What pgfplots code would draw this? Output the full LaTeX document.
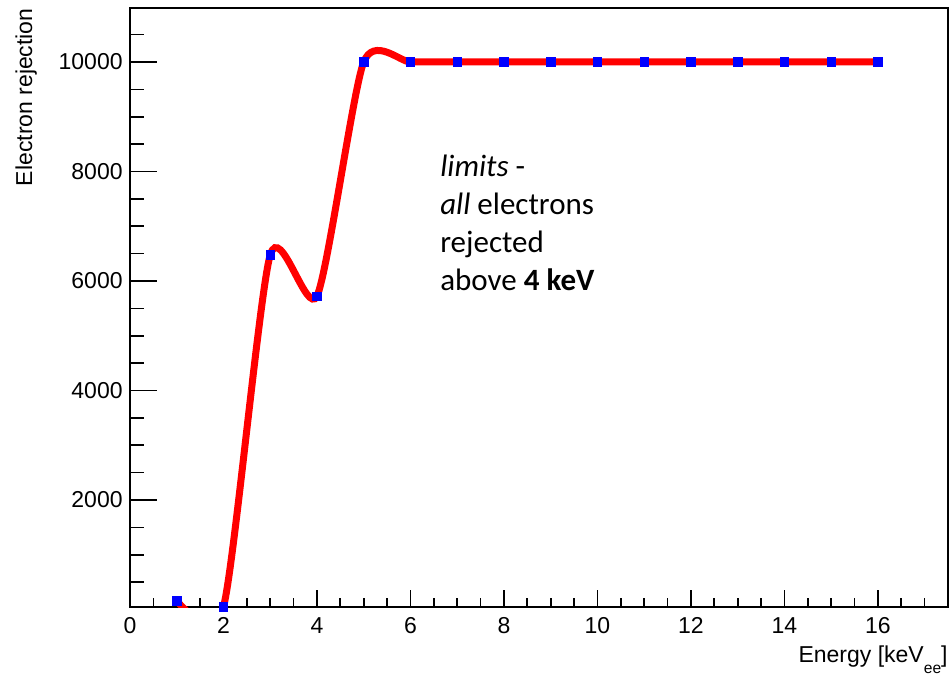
\documentclass[border=0pt]{standalone}
\usepackage{fontspec}
\setmainfont{Liberation Sans}
\newfontfamily\calibri{Carlito}
\usepackage{pgfplots}
\usepackage{pgfplotstable}
\pgfplotsset{compat=1.18}

% Electron rejection factor versus recoil energy
\pgfplotstableread{
x  y
1  160
2  50
3  6475
4  5725
5  10000
6  10000
7  10000
8  10000
9  10000
10 10000
11 10000
12 10000
13 10000
14 10000
15 10000
16 10000
}\rejection

\begin{document}
\begin{tikzpicture}
\path[use as bounding box] (-65pt,-34.5pt) rectangle (411pt,303.5pt);
\begin{axis}[
  at={(0,0)}, anchor=south west,
  scale only axis, width=409pt, height=299.5pt,
  xmin=0, xmax=17.5, ymin=46, ymax=10986,
  xtick={0,2,...,16}, ytick={2000,4000,...,10000},
  minor xtick={0.5,1,...,17.5},
  minor ytick={500,1000,...,10500},
  scaled y ticks=false, scaled x ticks=false,
  tick align=inside, tick pos=left,
  major tick length=13.5pt, minor tick length=7pt,
  xtick style={/pgfplots/major tick length=8.5pt, /pgfplots/minor tick length=4.75pt},
  axis line style={line width=0.85pt},
  every tick/.style={black, line width=0.85pt},
  /pgf/number format/assume math mode=true,
  /pgf/number format/1000 sep={},
  yticklabel={\pgfmathprintnumber[fixed, precision=0, 1000 sep={}]{\tick}},
  tick label style={font=\fontsize{11.5}{13}\selectfont},
  yticklabel style={anchor=east, inner sep=0pt, xshift=-3.5pt},
  xticklabel style={anchor=north, inner sep=0pt, yshift=-5pt},
  ylabel={Electron rejection},
  xlabel={Energy [keV\raisebox{-5.5pt}{\fontsize{7.8}{8}\selectfont ee}]},
  every axis y label/.style={at={(axis description cs:-0.1406,1)}, rotate=90,
    anchor=north east, inner sep=0pt, font=\fontsize{11.5}{13}\selectfont},
  every axis x label/.style={at={(axis description cs:1,0)},
    anchor=north east, inner sep=0pt, yshift=-19pt, font=\fontsize{11.5}{13}\selectfont},
]
\addplot[red, line width=3.5pt, smooth, tension=0.4] table[x=x, y=y] {\rejection};
\addplot[blue, only marks, mark=square*, mark size=2.1pt,
  mark options={draw=blue, fill=blue, line width=0.3pt}] table[x=x, y=y] {\rejection};
\node[anchor=north west, inner sep=0pt, align=left,
  font=\calibri\fontsize{15.5}{19}\selectfont] at (axis cs:6.63,8300)
  {\textit{limits} -\\ \textit{all} electrons\\ rejected\\ above \textbf{4 keV}};
\end{axis}
\end{tikzpicture}
\end{document}
